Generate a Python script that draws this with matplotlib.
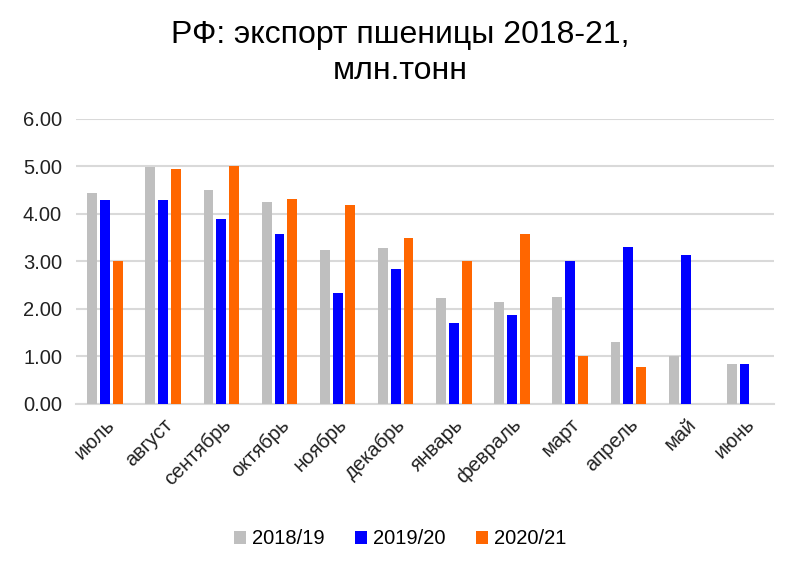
import matplotlib.pyplot as plt
import numpy as np

plt.rcParams['font.family'] = ['Liberation Sans', 'DejaVu Sans']

months = ['июль', 'август', 'сентябрь', 'октябрь', 'ноябрь', 'декабрь',
          'январь', 'февраль', 'март', 'апрель', 'май', 'июнь']
s2018 = [4.44, 4.98, 4.50, 4.26, 3.25, 3.28, 2.22, 2.15, 2.25, 1.30, 1.01, 0.84]
s2019 = [4.29, 4.29, 3.89, 3.57, 2.34, 2.84, 1.71, 1.87, 3.00, 3.31, 3.13, 0.84]
s2020 = [3.00, 4.95, 5.00, 4.32, 4.18, 3.49, 3.00, 3.57, 1.00, 0.78, np.nan, np.nan]
labels = ['2018/19', '2019/20', '2020/21']
colors = ['#bfbfbf', '#0000ff', '#ff6600']

fig = plt.figure(figsize=(8, 5.61), dpi=100)
ax = fig.add_axes([0.095, 0.28, 0.872, 0.508])

x = np.arange(len(months))
w = 0.17
step = 0.22
for i, (vals, lab, c) in enumerate(zip([s2018, s2019, s2020], labels, colors)):
    ax.bar(x + (i - 1) * step, vals, width=w, color=c, label=lab, zorder=3)

ax.set_xlim(-0.5, len(months) - 0.5)
ax.set_ylim(0, 6)
ax.set_yticks(np.arange(0, 6.01, 1))
ax.set_yticklabels(['%.2f' % v for v in np.arange(0, 6.01, 1)])
ax.yaxis.grid(True, color='#d9d9d9', linewidth=1.5, zorder=0)
ax.set_xticks(x)
ax.set_xticklabels(months, rotation=45, ha='right', rotation_mode='anchor')
ax.tick_params(axis='both', length=0, labelsize=14.5, colors='#222222')
ax.tick_params(axis='x', pad=8)
ax.tick_params(axis='y', pad=10)
for s in ['top', 'right', 'left']:
    ax.spines[s].set_visible(False)
ax.spines['bottom'].set_color('#d9d9d9')
ax.spines['bottom'].set_linewidth(1.5)

fig.suptitle('РФ: экспорт пшеницы 2018-21,\nмлн.тонн', fontsize=23, y=0.965,
             linespacing=1.28)
fig.legend(loc='lower center', ncol=3, frameon=False, fontsize=14.5,
           bbox_to_anchor=(0.5, -0.01), handlelength=0.6, handleheight=0.6,
           handletextpad=0.3, columnspacing=1.5)

fig.savefig('out.png', dpi=100)
